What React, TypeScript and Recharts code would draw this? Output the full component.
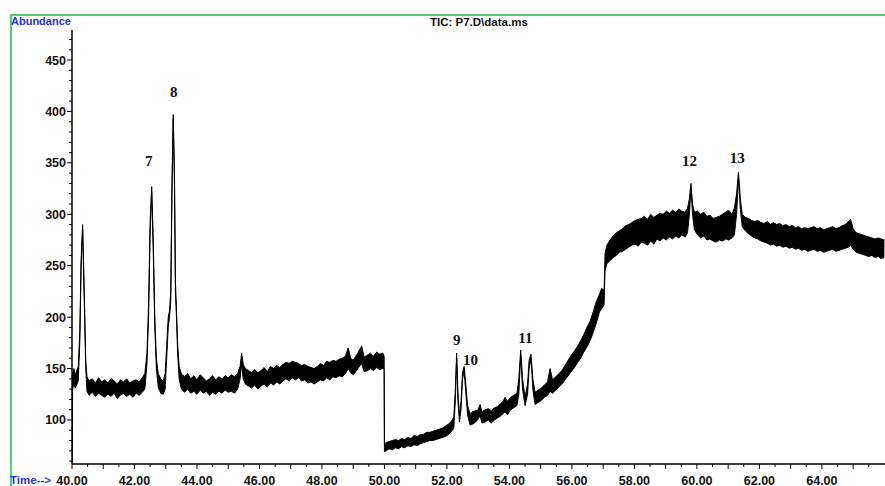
import { ComposedChart, Area, XAxis, YAxis, ReferenceDot } from "recharts";

// chromatogram trace: [time (min), lower edge, upper edge] of the noise band
const TRACE: [number, number, number][] = [
  [40.0, 58, 58], [40.02, 130, 145], [40.06, 136, 150], [40.1, 131, 143], [40.15, 134, 148],
  [40.2, 138, 152], [40.25, 175, 185], [40.29, 245, 255], [40.34, 286, 290], [40.39, 220, 228],
  [40.44, 150, 158], [40.48, 128, 142], [40.55, 124, 138], [40.65, 127, 140], [40.75, 123, 136],
  [40.85, 126, 141], [40.95, 124, 137], [41.05, 122, 139], [41.15, 125, 136], [41.25, 123, 140],
  [41.35, 126, 138], [41.45, 121, 135], [41.55, 124, 139], [41.65, 126, 137], [41.75, 123, 140],
  [41.85, 125, 136], [41.95, 122, 138], [42.05, 126, 139], [42.15, 124, 137], [42.25, 127, 141],
  [42.33, 130, 145], [42.4, 155, 165], [42.45, 200, 212], [42.5, 280, 292], [42.55, 322, 327],
  [42.6, 265, 275], [42.65, 190, 200], [42.7, 150, 160], [42.76, 132, 145], [42.84, 126, 140],
  [42.92, 125, 138], [42.98, 130, 145], [43.03, 160, 172], [43.08, 190, 200], [43.12, 200, 206],
  [43.16, 215, 225], [43.2, 320, 330], [43.24, 393, 397], [43.28, 330, 340], [43.31, 225, 235],
  [43.34, 203, 210], [43.38, 165, 175], [43.43, 140, 152], [43.5, 130, 145], [43.6, 127, 142],
  [43.7, 130, 145], [43.8, 126, 140], [43.9, 128, 143], [44.0, 125, 139], [44.1, 129, 144],
  [44.2, 126, 141], [44.3, 128, 138], [44.4, 124, 140], [44.5, 127, 143], [44.6, 125, 139],
  [44.7, 128, 142], [44.8, 126, 140], [44.9, 129, 143], [45.0, 127, 141], [45.1, 128, 144],
  [45.2, 126, 142], [45.3, 130, 145], [45.38, 140, 152], [45.43, 155, 165], [45.48, 140, 154],
  [45.55, 135, 150], [45.65, 133, 148], [45.75, 131, 146], [45.85, 134, 149], [45.95, 130, 146],
  [46.05, 133, 148], [46.15, 135, 151], [46.25, 132, 147], [46.35, 136, 152], [46.45, 134, 150],
  [46.55, 137, 153], [46.65, 135, 151], [46.75, 138, 154], [46.85, 140, 156], [46.95, 138, 155],
  [47.05, 141, 157], [47.15, 139, 156], [47.25, 141, 155], [47.35, 138, 153], [47.45, 139, 154],
  [47.55, 136, 152], [47.65, 137, 151], [47.75, 135, 150], [47.85, 137, 152], [47.95, 139, 155],
  [48.05, 138, 153], [48.15, 141, 157], [48.25, 139, 156], [48.35, 142, 158], [48.45, 141, 157],
  [48.55, 143, 159], [48.65, 142, 160], [48.75, 145, 162], [48.84, 150, 170], [48.92, 146, 160],
  [49.0, 144, 158], [49.08, 147, 162], [49.15, 150, 165], [49.27, 155, 172], [49.35, 147, 161],
  [49.45, 148, 163], [49.55, 150, 165], [49.65, 148, 162], [49.75, 151, 166], [49.85, 149, 164],
  [49.95, 150, 165], [49.99, 150, 162], [50.0, 69, 75], [50.05, 70, 78], [50.15, 72, 79],
  [50.25, 71, 80], [50.35, 73, 81], [50.45, 72, 80], [50.55, 74, 82], [50.65, 73, 81],
  [50.75, 75, 83], [50.85, 74, 82], [50.95, 76, 85], [51.05, 75, 84], [51.15, 77, 86],
  [51.25, 78, 86], [51.35, 79, 88], [51.45, 80, 88], [51.55, 80, 89], [51.65, 81, 90],
  [51.75, 82, 91], [51.85, 83, 92], [51.95, 84, 94], [52.05, 86, 96], [52.15, 89, 99],
  [52.22, 92, 103], [52.27, 120, 130], [52.31, 160, 165], [52.35, 120, 128], [52.4, 98, 104],
  [52.45, 110, 118], [52.5, 140, 146], [52.55, 148, 152], [52.6, 128, 136], [52.66, 105, 114],
  [52.74, 95, 106], [52.82, 96, 108], [52.92, 98, 109], [53.0, 101, 110], [53.06, 104, 115],
  [53.12, 97, 108], [53.22, 98, 110], [53.32, 100, 111], [53.42, 97, 109], [53.52, 100, 112],
  [53.62, 102, 113], [53.72, 104, 116], [53.8, 106, 118], [53.86, 108, 122], [53.94, 105, 118],
  [54.04, 110, 122], [54.14, 112, 124], [54.24, 114, 126], [54.3, 125, 140], [54.36, 163, 168],
  [54.42, 130, 140], [54.5, 114, 122], [54.58, 125, 135], [54.63, 150, 158], [54.69, 160, 164],
  [54.75, 130, 140], [54.82, 115, 127], [54.92, 117, 129], [55.02, 119, 131], [55.12, 122, 134],
  [55.22, 124, 137], [55.3, 128, 150], [55.38, 126, 139], [55.48, 129, 142], [55.58, 132, 145],
  [55.68, 135, 148], [55.78, 139, 153], [55.88, 143, 158], [55.98, 147, 163], [56.08, 151, 167],
  [56.18, 156, 172], [56.28, 160, 177], [56.38, 166, 183], [56.48, 171, 190], [56.58, 177, 196],
  [56.68, 185, 205], [56.78, 194, 215], [56.88, 205, 222], [56.95, 208, 228], [57.03, 212, 226],
  [57.06, 245, 262], [57.12, 252, 270], [57.22, 255, 275], [57.32, 258, 279], [57.42, 260, 282],
  [57.52, 263, 284], [57.62, 264, 286], [57.72, 266, 289], [57.82, 268, 290], [57.92, 270, 292],
  [58.02, 271, 294], [58.12, 269, 295], [58.22, 273, 296], [58.32, 272, 298], [58.42, 270, 295],
  [58.52, 274, 300], [58.62, 271, 297], [58.72, 276, 299], [58.82, 274, 301], [58.92, 277, 300],
  [59.02, 275, 303], [59.12, 278, 301], [59.22, 276, 304], [59.32, 279, 302], [59.42, 277, 305],
  [59.52, 280, 303], [59.62, 278, 302], [59.7, 282, 306], [59.76, 300, 315], [59.81, 326, 330],
  [59.86, 300, 310], [59.92, 285, 302], [60.02, 280, 303], [60.12, 277, 300], [60.22, 279, 302],
  [60.32, 275, 298], [60.42, 276, 299], [60.52, 274, 296], [60.62, 273, 297], [60.72, 275, 298],
  [60.82, 274, 300], [60.92, 276, 302], [61.02, 275, 304], [61.12, 277, 300], [61.2, 280, 306],
  [61.27, 300, 320], [61.33, 335, 341], [61.39, 305, 315], [61.45, 288, 300], [61.55, 284, 297],
  [61.65, 281, 296], [61.75, 279, 294], [61.85, 277, 293], [61.95, 276, 294], [62.05, 274, 292],
  [62.15, 273, 291], [62.25, 272, 293], [62.35, 270, 290], [62.45, 271, 292], [62.55, 269, 290],
  [62.65, 270, 291], [62.75, 268, 289], [62.85, 269, 290], [62.95, 267, 288], [63.05, 268, 289],
  [63.15, 266, 287], [63.25, 267, 288], [63.35, 265, 286], [63.45, 266, 287], [63.55, 264, 286],
  [63.65, 265, 287], [63.75, 266, 288], [63.85, 264, 286], [63.95, 265, 287], [64.05, 263, 285],
  [64.15, 264, 286], [64.25, 265, 287], [64.35, 266, 288], [64.45, 264, 286], [64.55, 265, 287],
  [64.65, 266, 289], [64.75, 267, 290], [64.85, 268, 293], [64.92, 270, 295], [65.0, 266, 286],
  [65.1, 263, 282], [65.2, 262, 281], [65.3, 261, 280], [65.4, 260, 279], [65.5, 259, 278],
  [65.6, 260, 277], [65.7, 258, 276], [65.8, 259, 277], [65.9, 257, 276], [66.0, 258, 275],
];

// numbered peak labels (label, time, abundance where the label sits)
const PEAKS: [string, number, number][] = [
  ["7", 42.46, 352], ["8", 43.26, 419], ["9", 52.31, 178], ["10", 52.75, 158],
  ["11", 54.51, 180], ["12", 59.76, 352], ["13", 61.29, 355],
];

const X_TICKS = [
  40, 40.5, 41, 41.5, 42, 42.5, 43, 43.5, 44, 44.5, 45, 45.5, 46, 46.5, 47, 47.5, 48, 48.5,
  49, 49.5, 50, 50.5, 51, 51.5, 52, 52.5, 53, 53.5, 54, 54.5, 55, 55.5, 56, 56.5, 57, 57.5,
  58, 58.5, 59, 59.5, 60, 60.5, 61, 61.5, 62, 62.5, 63, 63.5, 64, 64.5, 65, 65.5,
];
const X_LABELS = [40, 42, 44, 46, 48, 50, 52, 54, 56, 58, 60, 62, 64];

const Y_TICKS = [
  60, 70, 80, 90, 100, 110, 120, 130, 140, 150, 160, 170, 180, 190, 200, 210, 220, 230, 240,
  250, 260, 270, 280, 290, 300, 310, 320, 330, 340, 350, 360, 370, 380, 390, 400, 410, 420,
  430, 440, 450, 460, 470,
];
const Y_LABELS = [100, 150, 200, 250, 300, 350, 400, 450];

const data = TRACE.map(([t, lo, hi]) => ({ t, band: [lo, hi] }));

const FONT = "'Liberation Sans', Arial, sans-serif";
const BLUE = "#2536c8";

const XTick = ({ x, y, payload }: any) => {
  const v = payload.value;
  const whole = Number.isInteger(v);
  return (
    <g>
      <line x1={x} x2={x} y1={y} y2={y + (whole ? 5 : 3)} stroke="#000" strokeWidth={1} />
      {X_LABELS.includes(v) && (
        <text x={x} y={y + 20.5} textAnchor="middle" fontFamily={FONT} fontWeight="bold" fontSize={12.5} fill="#111">
          {v.toFixed(2)}
        </text>
      )}
    </g>
  );
};

const YTick = ({ x, y, payload }: any) => {
  const v = payload.value;
  const major = Y_LABELS.includes(v);
  return (
    <g>
      <line x1={x - (major ? 5 : 3)} x2={x} y1={y} y2={y} stroke="#000" strokeWidth={1} />
      {major && (
        <text x={x - 6} y={y + 4.5} textAnchor="end" fontFamily={FONT} fontWeight="bold" fontSize={12.5} fill="#111">
          {v}
        </text>
      )}
    </g>
  );
};

const PeakLabel = (label: string) => (p: any) => (
  <text x={p.cx} y={p.cy + 5} textAnchor="middle" fontFamily="'Liberation Serif', 'Times New Roman', serif" fontWeight="bold" fontSize={15} fill="#111">
    {label}
  </text>
);

export default function App() {
  return (
    <div style={{ position: "relative", width: 885, height: 486, background: "#fff", overflow: "hidden" }}>
      <style>{"body{margin:0}"}</style>
      <ComposedChart width={885} height={486} data={data} margin={{ top: 30, right: 0, bottom: 0, left: 0 }}>
        <XAxis
          dataKey="t"
          type="number"
          domain={[40, 66.02]}
          allowDataOverflow
          ticks={X_TICKS}
          interval={0}
          tick={<XTick />}
          tickLine={false}
          tickSize={0}
          tickMargin={0}
          height={22}
          axisLine={{ stroke: "#000", strokeWidth: 1.5 }}
        />
        <YAxis
          type="number"
          domain={[57.2, 479.2]}
          allowDataOverflow
          ticks={Y_TICKS}
          interval={0}
          tick={<YTick />}
          tickLine={false}
          tickSize={0}
          tickMargin={0}
          width={72}
          axisLine={{ stroke: "#000", strokeWidth: 1.5 }}
        />
        <Area
          dataKey="band"
          type="linear"
          stroke="#000"
          strokeWidth={1}
          fill="#000"
          fillOpacity={1}
          isAnimationActive={false}
          dot={false}
          activeDot={false}
        />
        {PEAKS.map(([label, t, v]) => (
          <ReferenceDot key={label} x={t} y={v} r={0} ifOverflow="visible" shape={PeakLabel(label)} />
        ))}
      </ComposedChart>
      <div style={{ position: "absolute", left: 10, top: 14, right: 0, height: 1.5, background: "#5cc87c" }} />
      <div style={{ position: "absolute", left: 10, top: 14, bottom: 0, width: 1.5, background: "#5cc87c" }} />
      <div style={{ position: "absolute", left: 11, top: 14, fontFamily: FONT, fontWeight: "bold", fontSize: 11, color: BLUE, lineHeight: "14px" }}>
        Abundance
      </div>
      <div style={{ position: "absolute", left: 430, top: 15, fontFamily: FONT, fontWeight: "bold", fontSize: 11.5, color: "#111", lineHeight: "14px" }}>
        TIC: P7.D\data.ms
      </div>
      <div style={{ position: "absolute", left: 10, top: 473, fontFamily: FONT, fontWeight: "bold", fontSize: 11.5, color: BLUE, lineHeight: "14px" }}>
        Time--&gt;
      </div>
    </div>
  );
}
